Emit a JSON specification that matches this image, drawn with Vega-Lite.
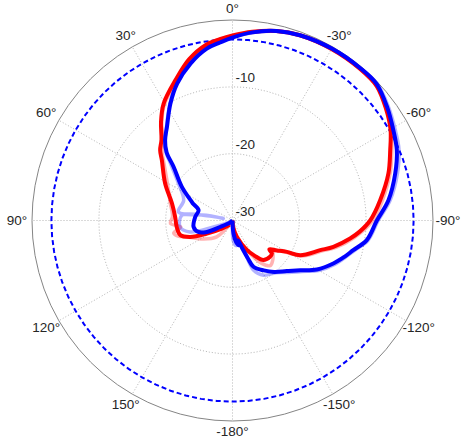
{
  "$schema": "https://vega.github.io/schema/vega-lite/v6.json",
  "autosize": "none",
  "width": 401,
  "height": 401,
  "padding": {"left": 32, "top": 20, "right": 29, "bottom": 18},
  "background": "white",
  "config": {"view": {"stroke": null}},
  "datasets": {
    "circle": [
      {"a":0},{"a":5},{"a":10},{"a":15},{"a":20},{"a":25},{"a":30},{"a":35},{"a":40},{"a":45},{"a":50},{"a":55},{"a":60},{"a":65},{"a":70},{"a":75},{"a":80},{"a":85},{"a":90},{"a":95},{"a":100},{"a":105},{"a":110},{"a":115},{"a":120},{"a":125},{"a":130},{"a":135},{"a":140},{"a":145},{"a":150},{"a":155},{"a":160},{"a":165},{"a":170},{"a":175},{"a":180},{"a":185},{"a":190},{"a":195},{"a":200},{"a":205},{"a":210},{"a":215},{"a":220},{"a":225},{"a":230},{"a":235},{"a":240},{"a":245},{"a":250},{"a":255},{"a":260},{"a":265},{"a":270},{"a":275},{"a":280},{"a":285},{"a":290},{"a":295},{"a":300},{"a":305},{"a":310},{"a":315},{"a":320},{"a":325},{"a":330},{"a":335},{"a":340},{"a":345},{"a":350},{"a":355},{"a":360}
    ],
    "blue": [
      {"a":150,"d":-30},{"a":130,"d":-29.5},{"a":117.5,"d":-27.9},{"a":114,"d":-25.8},{"a":108.5,"d":-24.6},{"a":99.3,"d":-24.1},{"a":84.5,"d":-24.4},{"a":73.1,"d":-24.7},{"a":67,"d":-23.6},{"a":65.4,"d":-23.3},{"a":56.4,"d":-20.9},{"a":47.7,"d":-18.1},{"a":44,"d":-15.8},{"a":40,"d":-14.3},{"a":35,"d":-12.9},{"a":28,"d":-10.2},{"a":22,"d":-7.9},{"a":15,"d":-5.7},{"a":8.5,"d":-4.0},{"a":4,"d":-3.3},{"a":0.5,"d":-2.7},{"a":-6,"d":-1.7},{"a":-13,"d":-0.9},{"a":-20,"d":-0.5},{"a":-30,"d":-0.3},{"a":-40,"d":-0.25},{"a":-46.5,"d":-0.3},{"a":-53.7,"d":-1.3},{"a":-60.7,"d":-2.4},{"a":-66.8,"d":-3.25},{"a":-73.9,"d":-4.66},{"a":-82.6,"d":-6.47},{"a":-90,"d":-8.4},{"a":-98.3,"d":-9.7},{"a":-103.8,"d":-11.4},{"a":-108,"d":-12.4},{"a":-113.1,"d":-13.6},{"a":-120.1,"d":-15.4},{"a":-126.3,"d":-17.4},{"a":-133,"d":-18.9},{"a":-141,"d":-20.1},{"a":-148,"d":-21.2},{"a":-155.6,"d":-22.4},{"a":-158,"d":-24},{"a":-160.7,"d":-25.6},{"a":-164,"d":-26.9},{"a":-166,"d":-26.2},{"a":-169,"d":-26.5},{"a":-175.6,"d":-28.05},{"a":-180,"d":-30}
    ],
    "red": [
      {"a":147,"d":-29.2},{"a":127,"d":-28},{"a":117,"d":-25.7},{"a":111.2,"d":-23.2},{"a":105.7,"d":-21.9},{"a":96.6,"d":-21.6},{"a":86.4,"d":-21.4},{"a":74.3,"d":-20.6},{"a":61.2,"d":-18.5},{"a":49.5,"d":-16.1},{"a":45.8,"d":-14.9},{"a":41.3,"d":-13.9},{"a":36,"d":-11.8},{"a":30.5,"d":-9.7},{"a":22,"d":-7.3},{"a":15,"d":-5.0},{"a":8.5,"d":-3.4},{"a":4,"d":-2.8},{"a":0,"d":-2.3},{"a":-6,"d":-1.6},{"a":-13,"d":-0.9},{"a":-20,"d":-0.5},{"a":-30,"d":-0.35},{"a":-40,"d":-0.35},{"a":-47,"d":-0.5},{"a":-54,"d":-1.6},{"a":-60,"d":-2.7},{"a":-66,"d":-4.17},{"a":-73.2,"d":-5.63},{"a":-82.2,"d":-7.7},{"a":-90,"d":-9.4},{"a":-95,"d":-10.9},{"a":-98.7,"d":-12.2},{"a":-104.6,"d":-14.4},{"a":-108.7,"d":-16.15},{"a":-117.1,"d":-18.6},{"a":-120,"d":-20.6},{"a":-124,"d":-22},{"a":-128,"d":-23.0},{"a":-130,"d":-22.3},{"a":-134,"d":-22.2},{"a":-142,"d":-22.5},{"a":-148,"d":-23.8},{"a":-154,"d":-25.1},{"a":-165,"d":-27.5},{"a":-175,"d":-29},{"a":-180,"d":-30}
    ],
    "redFaint": [
      {"a":150,"d":-30},{"a":136,"d":-26.6},{"a":120,"d":-24.5},{"a":110,"d":-22.8},{"a":106,"d":-21.5},{"a":102,"d":-21},{"a":97,"d":-22.2},{"a":92.8,"d":-20.7},{"a":86,"d":-21.0},{"a":74,"d":-20.3},{"a":61,"d":-18.9},{"a":50,"d":-16.6},{"a":45.8,"d":-15.3},{"a":41,"d":-14.2},{"a":36,"d":-12.0},{"a":30.5,"d":-9.9},{"a":22,"d":-7.5},{"a":15,"d":-5.2},{"a":8.5,"d":-3.5},{"a":0,"d":-2.4},{"a":-13,"d":-0.95},{"a":-20,"d":-0.55},{"a":-30,"d":-0.4},{"a":-40,"d":-0.3},{"a":-47,"d":-0.45},{"a":-54,"d":-1.5},{"a":-60,"d":-2.5},{"a":-66,"d":-3.9},{"a":-73,"d":-5.3},{"a":-82,"d":-7.3},{"a":-90,"d":-9.0},{"a":-98,"d":-11.6},{"a":-104.6,"d":-14.0},{"a":-108.7,"d":-15.8},{"a":-117,"d":-18.3},{"a":-120,"d":-20.2},{"a":-126,"d":-22.3},{"a":-134,"d":-21.6},{"a":-140,"d":-21.2},{"a":-146,"d":-22.3},{"a":-154,"d":-25},{"a":-165,"d":-27.3},{"a":-180,"d":-30}
    ],
    "blueFaint": [
      {"a":150,"d":-30},{"a":120,"d":-29.5},{"a":108.6,"d":-27},{"a":105,"d":-23.4},{"a":97,"d":-22.1},{"a":84,"d":-22.4},{"a":79,"d":-26.5},{"a":77,"d":-28.6},{"a":78.5,"d":-26},{"a":81,"d":-21.8},{"a":67.5,"d":-22.1},{"a":56,"d":-20.3},{"a":47,"d":-17.2},{"a":44,"d":-15.6},{"a":35,"d":-12.8},{"a":28,"d":-10.1},{"a":22,"d":-7.8},{"a":15,"d":-5.6},{"a":8.5,"d":-3.9},{"a":0.5,"d":-2.6},{"a":-13,"d":-0.85},{"a":-20,"d":-0.45},{"a":-30,"d":-0.25},{"a":-40,"d":-0.2},{"a":-46.5,"d":-0.2},{"a":-53.7,"d":-1.1},{"a":-60.7,"d":-2.1},{"a":-66.8,"d":-2.9},{"a":-73.9,"d":-4.3},{"a":-82.6,"d":-6.2},{"a":-90,"d":-8.2},{"a":-98.3,"d":-9.5},{"a":-103.8,"d":-11.2},{"a":-113.1,"d":-13.3},{"a":-120.1,"d":-15.1},{"a":-126.3,"d":-17.1},{"a":-133,"d":-18.6},{"a":-140,"d":-19.8},{"a":-144.9,"d":-20.2},{"a":-150.5,"d":-20.6},{"a":-157,"d":-21.9},{"a":-160,"d":-26},{"a":-165,"d":-26.4},{"a":-172,"d":-26.2},{"a":-178,"d":-27},{"a":-180,"d":-30}
    ]
  },
  "layer": [
    {
      "data": {"name": "circle"},
      "transform": [
        {"window": [{"op": "row_number", "as": "k"}]},
        {"calculate": "-sin(datum.a*PI/180)/3", "as": "x"},
        {"calculate": "cos(datum.a*PI/180)/3", "as": "y"}
      ],
      "mark": {"type": "line", "color": "#b4b4b4", "strokeWidth": 1, "strokeDash": [1, 2]},
      "encoding": {
        "x": {"field": "x", "type": "quantitative", "scale": {"domain": [-1, 1], "nice": false, "zero": false}, "axis": null},
        "y": {"field": "y", "type": "quantitative", "scale": {"domain": [-1, 1], "nice": false, "zero": false}, "axis": null},
        "order": {"field": "k"}
      }
    },
    {
      "data": {"name": "circle"},
      "transform": [
        {"window": [{"op": "row_number", "as": "k"}]},
        {"calculate": "-sin(datum.a*PI/180)*2/3", "as": "x"},
        {"calculate": "cos(datum.a*PI/180)*2/3", "as": "y"}
      ],
      "mark": {"type": "line", "color": "#b4b4b4", "strokeWidth": 1, "strokeDash": [1, 2]},
      "encoding": {"x": {"field": "x", "type": "quantitative"}, "y": {"field": "y", "type": "quantitative"}, "order": {"field": "k"}}
    },
    {
      "data": {"values": [{"a": 0}, {"a": 30}, {"a": 60}, {"a": 90}, {"a": 120}, {"a": 150}, {"a": 180}, {"a": 210}, {"a": 240}, {"a": 270}, {"a": 300}, {"a": 330}]},
      "transform": [
        {"calculate": "0", "as": "x0"},
        {"calculate": "-sin(datum.a*PI/180)", "as": "x1"},
        {"calculate": "cos(datum.a*PI/180)", "as": "y1"}
      ],
      "mark": {"type": "rule", "color": "#b4b4b4", "strokeWidth": 1, "strokeDash": [1, 2]},
      "encoding": {
        "x": {"field": "x0", "type": "quantitative"},
        "y": {"field": "x0", "type": "quantitative"},
        "x2": {"field": "x1"},
        "y2": {"field": "y1"}
      }
    },
    {
      "data": {"name": "circle"},
      "transform": [
        {"window": [{"op": "row_number", "as": "k"}]},
        {"calculate": "-sin(datum.a*PI/180)", "as": "x"},
        {"calculate": "cos(datum.a*PI/180)", "as": "y"}
      ],
      "mark": {"type": "line", "color": "#858585", "strokeWidth": 1},
      "encoding": {"x": {"field": "x", "type": "quantitative"}, "y": {"field": "y", "type": "quantitative"}, "order": {"field": "k"}}
    },
    {
      "data": {"name": "circle"},
      "transform": [
        {"window": [{"op": "row_number", "as": "k"}]},
        {"calculate": "-sin(datum.a*PI/180)*(30-2.9)/30", "as": "x"},
        {"calculate": "cos(datum.a*PI/180)*(30-2.9)/30", "as": "y"}
      ],
      "mark": {"type": "line", "color": "#0000ff", "strokeWidth": 2, "strokeDash": [5, 3]},
      "encoding": {"x": {"field": "x", "type": "quantitative"}, "y": {"field": "y", "type": "quantitative"}, "order": {"field": "k"}}
    },
    {
      "data": {"name": "redFaint"},
      "transform": [
        {"window": [{"op": "row_number", "as": "k"}]},
        {"calculate": "(max(datum.d,-30)+30)/30", "as": "r"},
        {"calculate": "-datum.r*sin(datum.a*PI/180)", "as": "x"},
        {"calculate": "datum.r*cos(datum.a*PI/180)", "as": "y"}
      ],
      "mark": {"type": "line", "color": "#ff0000", "opacity": 0.3, "strokeWidth": 3.5, "strokeJoin": "round", "interpolate": "catmull-rom"},
      "encoding": {"x": {"field": "x", "type": "quantitative"}, "y": {"field": "y", "type": "quantitative"}, "order": {"field": "k"}}
    },
    {
      "data": {"name": "blueFaint"},
      "transform": [
        {"window": [{"op": "row_number", "as": "k"}]},
        {"calculate": "(max(datum.d,-30)+30)/30", "as": "r"},
        {"calculate": "-datum.r*sin(datum.a*PI/180)", "as": "x"},
        {"calculate": "datum.r*cos(datum.a*PI/180)", "as": "y"}
      ],
      "mark": {"type": "line", "color": "#0000ff", "opacity": 0.3, "strokeWidth": 3.5, "strokeJoin": "round", "interpolate": "catmull-rom"},
      "encoding": {"x": {"field": "x", "type": "quantitative"}, "y": {"field": "y", "type": "quantitative"}, "order": {"field": "k"}}
    },
    {
      "data": {"name": "red"},
      "transform": [
        {"window": [{"op": "row_number", "as": "k"}]},
        {"calculate": "(max(datum.d,-30)+30)/30", "as": "r"},
        {"calculate": "-datum.r*sin(datum.a*PI/180)", "as": "x"},
        {"calculate": "datum.r*cos(datum.a*PI/180)", "as": "y"}
      ],
      "mark": {"type": "line", "color": "#ff0000", "strokeWidth": 4, "strokeJoin": "round", "interpolate": "catmull-rom"},
      "encoding": {"x": {"field": "x", "type": "quantitative"}, "y": {"field": "y", "type": "quantitative"}, "order": {"field": "k"}}
    },
    {
      "data": {"name": "blue"},
      "transform": [
        {"window": [{"op": "row_number", "as": "k"}]},
        {"calculate": "(max(datum.d,-30)+30)/30", "as": "r"},
        {"calculate": "-datum.r*sin(datum.a*PI/180)", "as": "x"},
        {"calculate": "datum.r*cos(datum.a*PI/180)", "as": "y"}
      ],
      "mark": {"type": "line", "color": "#0000ff", "strokeWidth": 4, "strokeJoin": "round", "interpolate": "catmull-rom"},
      "encoding": {"x": {"field": "x", "type": "quantitative"}, "y": {"field": "y", "type": "quantitative"}, "order": {"field": "k"}}
    },
    {
      "data": {"values": [{"a": 0, "t": "0°"}, {"a": 30, "t": "30°"}, {"a": 60, "t": "60°"}, {"a": 90, "t": "90°"}, {"a": 120, "t": "120°"}, {"a": 150, "t": "150°"}, {"a": 180, "t": "-180°"}, {"a": -150, "t": "-150°"}, {"a": -120, "t": "-120°"}, {"a": -90, "t": "-90°"}, {"a": -60, "t": "-60°"}, {"a": -30, "t": "-30°"}]},
      "transform": [
        {"calculate": "1.055 + 0.02*abs(sin(datum.a*PI/180))", "as": "r"},
        {"calculate": "-datum.r*sin(datum.a*PI/180)", "as": "x"},
        {"calculate": "datum.r*cos(datum.a*PI/180)", "as": "y"}
      ],
      "mark": {"type": "text", "font": "Liberation Sans", "fontSize": 13.5, "color": "#262626", "align": "center", "baseline": "middle"},
      "encoding": {"x": {"field": "x", "type": "quantitative"}, "y": {"field": "y", "type": "quantitative"}, "text": {"field": "t"}}
    },
    {
      "data": {"values": [{"d": -10, "t": "-10"}, {"d": -20, "t": "-20"}, {"d": -30, "t": "-30"}]},
      "transform": [
        {"calculate": "0", "as": "x"},
        {"calculate": "(datum.d+30)/30", "as": "y"}
      ],
      "mark": {"type": "text", "font": "Liberation Sans", "fontSize": 13.5, "color": "#262626", "align": "left", "baseline": "bottom", "dx": 3, "dy": -2},
      "encoding": {"x": {"field": "x", "type": "quantitative"}, "y": {"field": "y", "type": "quantitative"}, "text": {"field": "t"}}
    }
  ]
}
